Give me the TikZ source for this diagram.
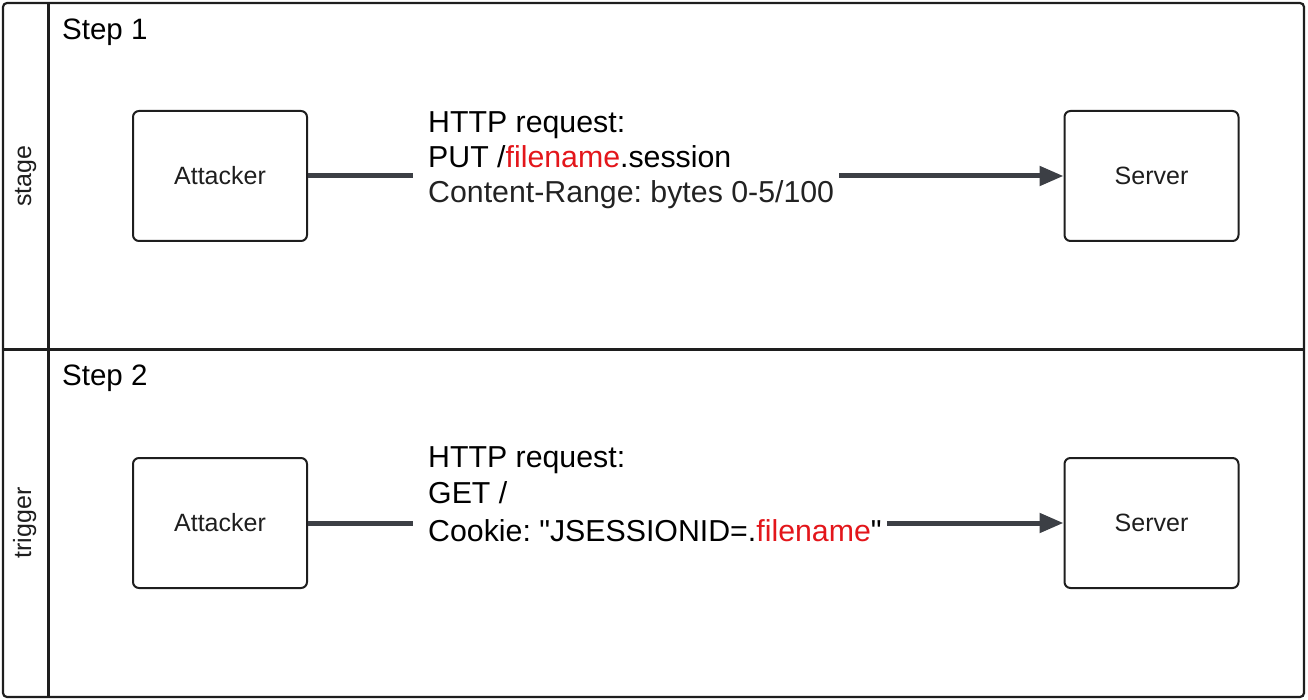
\documentclass[tikz,border=0pt]{standalone}
\usepackage{fontspec}
\setmainfont{Liberation Sans}
\setmonofont{Liberation Sans}
\usetikzlibrary{arrows.meta}
\definecolor{ln}{HTML}{1E1E1E}
\definecolor{conncol}{HTML}{3C3F45}
\definecolor{fred}{HTML}{E3161B}
\definecolor{dgray}{HTML}{222222}
\frenchspacing
\newcommand{\sq}{{\ttfamily"}}
\begin{document}
\begin{tikzpicture}[x=1pt,y=-1pt,
  frameline/.style={draw=ln, line width=2.2pt},
  actor/.style={draw=ln, line width=2pt, rounded corners=6pt, minimum width=174pt, minimum height=130pt, inner sep=0pt, font=\fontsize{25}{30}\selectfont, text=ln},
  lane/.style={font=\fontsize{25}{30}\selectfont, text=ln, rotate=90, anchor=base, inner sep=0pt},
  steplbl/.style={font=\fontsize{29.5}{34}\selectfont, text=black, anchor=base west, inner sep=0pt},
  reqline/.style={font=\fontsize{30.3}{36}\selectfont, text=black, anchor=base west, inner sep=0pt},
  conn/.style={draw=conncol, line width=5pt},
  arr/.style={conn, -{Triangle[length=24pt,width=19pt]}}
]
\useasboundingbox (0,0) rectangle (1308,700);
% frame
\draw[frameline, rounded corners=4pt] (3,3) rectangle (1304,697);
\draw[frameline] (3,349.5) -- (1304,349.5);
\draw[frameline] (48.5,3) -- (48.5,697);
% lane labels
\node[lane] (lstage) at (31,176) {stage};
\node[lane] (ltrigger) at (31,523) {trigger};
\node[steplbl] (s1) at (62,40) {Step 1};
\node[steplbl] (s2) at (62,385) {Step 2};
% step 1
\node[actor] (att1) at (220,176) {Attacker};
\node[actor] (srv1) at (1151.5,176) {Server};
\node[reqline] (r1a) at (428,133) {HTTP request:};
\node[reqline] (r1b) at (428,168) {PUT /\textcolor{fred}{filename}.session};
\node[reqline, text=dgray] (r1c) at (428,203) {Content-Range: bytes 0-5/100};
\coordinate (g1l) at ([xshift=-15pt]r1a.west);
\coordinate (g1r) at ([xshift=5pt]r1c.east);
\draw[conn] (att1.east) -- (att1.east -| g1l);
\draw[arr] (g1r |- srv1.west) -- (srv1.west);
% step 2
\node[actor] (att2) at (220,523) {Attacker};
\node[actor] (srv2) at (1151.5,523) {Server};
\node[reqline] (r2a) at (428,467) {HTTP request:};
\node[reqline] (r2b) at (428,503) {GET /};
\node[reqline] (r2c) at (428,541) {Cookie: \sq JSESSIONID=.\textcolor{fred}{filename}\sq};
\coordinate (g2l) at ([xshift=-15pt]r2a.west);
\coordinate (g2r) at ([xshift=5pt]r2c.east);
\draw[conn] (att2.east) -- (att2.east -| g2l);
\draw[arr] (g2r |- srv2.west) -- (srv2.west);
\end{tikzpicture}
\end{document}
